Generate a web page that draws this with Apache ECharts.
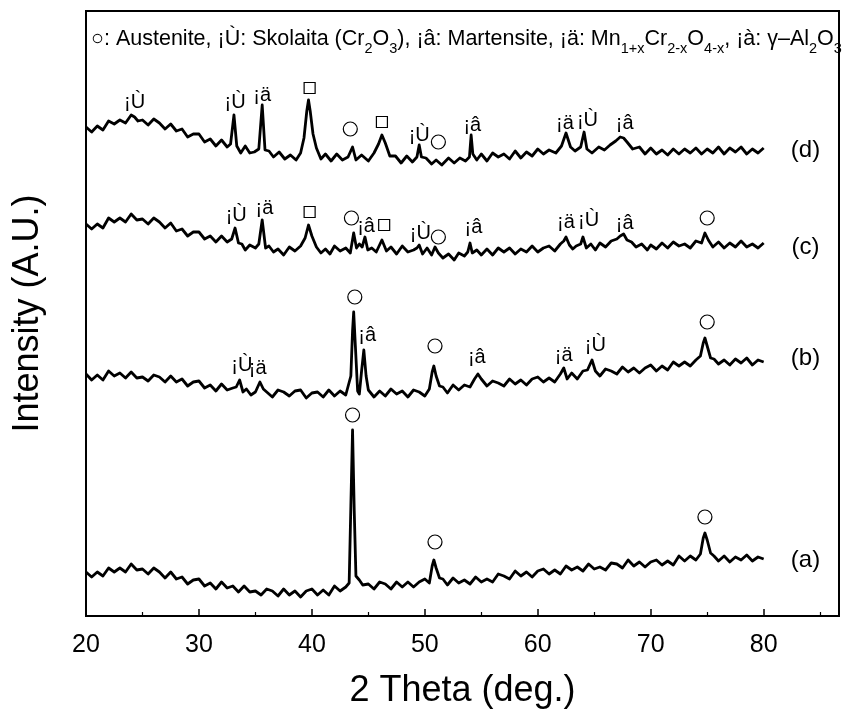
<!DOCTYPE html>
<html>
<head>
<meta charset="utf-8">
<script src="https://cdn.jsdelivr.net/npm/echarts@6/dist/echarts.min.js"></script>
<style>
    html, body {margin: 0; padding: 0; background: #fff;}
    #chart {width: 844px; height: 721px;}
</style>
</head>
<body>
<div id="chart"></div>
<script>
// XRD patterns, intensity in arbitrary units (stacking offset already included)
const traceA = [[20,44],[20.5,39],[21,44],[21.5,40],[22,48],[22.5,44],[23,48],[23.5,44],[24,52],[24.5,46],[25,47],[25.5,42],[26,48],[26.5,44],[27,38],[27.5,44],[28,37],[28.5,39],[29,32],[29.5,36],[30,37],[30.5,30],[31,33],[31.5,27],[32,34],[32.5,28],[33,30],[33.5,24],[34,30],[34.5,24],[35,25],[35.5,21],[36,27],[36.5,25],[37,20],[37.5,27],[38,21],[38.5,25],[39,19],[39.5,25],[40,27],[40.5,21],[41,26],[41.5,21],[42,30],[42.5,25],[43,29],[43.3,33],[43.45,110],[43.6,186],[43.75,105],[43.9,40],[44.2,36],[44.5,31],[45,32],[45.5,27],[46,34],[46.5,32],[47,27],[47.5,34],[48,29],[48.5,34],[49,29],[49.5,34],[50,37],[50.4,33],[50.65,50],[50.8,56],[51,48],[51.3,38],[51.6,37],[52,31],[52.5,38],[53,33],[53.5,36],[54,32],[54.5,39],[55,34],[55.5,37],[56,34],[56.5,42],[57,40],[57.5,37],[58,45],[58.5,40],[59,44],[59.5,39],[60,45],[60.5,47],[61,42],[61.5,46],[62,42],[62.5,50],[63,46],[63.5,49],[64,45],[64.5,52],[65,47],[65.5,49],[66,46],[66.5,53],[67,52],[67.5,48],[68,56],[68.5,50],[69,54],[69.5,49],[70,54],[70.5,56],[71,51],[71.5,55],[72,51],[72.5,60],[73,55],[73.5,60],[74,56],[74.4,62],[74.65,78],[74.8,83],[75,76],[75.3,63],[75.6,60],[76,55],[76.5,60],[77,54],[77.5,59],[78,56],[78.5,61],[79,55],[79.5,59],[80,57]];

const traceB = [[20,242],[20.5,236],[21,241],[21.5,236],[22,245],[22.5,240],[23,243],[23.5,238],[24,244],[24.5,238],[25,239],[25.5,235],[26,241],[26.5,239],[27,234],[27.5,240],[28,234],[28.5,237],[29,230],[29.5,234],[30,235],[30.5,228],[31,231],[31.5,225],[32,232],[32.5,226],[33,228],[33.3,229],[33.6,236],[33.9,224],[34.2,227],[34.6,221],[35,224],[35.4,234],[35.7,227],[36,224],[36.5,219],[37,226],[37.5,224],[38,220],[38.5,225],[39,226],[39.5,218],[40,223],[40.5,224],[41,219],[41.5,226],[42,220],[42.5,225],[43,221],[43.45,240],[43.6,285],[43.7,304],[43.85,270],[44.05,225],[44.2,222],[44.4,245],[44.6,266],[44.8,240],[45,226],[45.5,219],[46,225],[46.5,220],[47,227],[47.5,222],[48,225],[48.5,219],[49,226],[49.5,224],[50,220],[50.4,227],[50.65,244],[50.8,250],[51,240],[51.3,230],[51.6,229],[52,223],[52.5,231],[53,226],[53.5,231],[54,229],[54.4,237],[54.7,242],[55,237],[55.5,230],[56,235],[56.5,233],[57,230],[57.5,237],[58,232],[58.5,236],[59,231],[59.5,237],[60,239],[60.5,234],[61,238],[61.5,234],[62,242],[62.3,248],[62.6,237],[63,243],[63.5,237],[64,245],[64.4,246],[64.8,256],[65.1,245],[65.5,240],[66,247],[66.5,245],[67,242],[67.5,249],[68,244],[68.5,248],[69,243],[69.5,248],[70,251],[70.5,245],[71,250],[71.5,246],[72,254],[72.5,250],[73,254],[73.5,250],[74,256],[74.4,260],[74.65,273],[74.8,278],[75,270],[75.3,258],[75.6,257],[76,252],[76.5,256],[77,251],[77.5,257],[78,253],[78.5,258],[79,251],[79.5,256],[80,254]];

const traceC = [[20,392],[20.5,387],[21,392],[21.5,388],[22,398],[22.5,394],[23,398],[23.5,394],[24,402],[24.5,396],[25,397],[25.5,392],[26,398],[26.5,394],[27,388],[27.5,393],[28,385],[28.5,387],[29,380],[29.5,384],[30,384],[30.5,377],[31,380],[31.5,374],[32,380],[32.5,374],[32.9,377],[33.2,388],[33.5,373],[33.8,372],[34.1,366],[34.5,371],[35,368],[35.3,372],[35.6,396],[35.9,368],[36.2,370],[36.6,364],[37,367],[37.5,361],[38,369],[38.5,365],[39,370],[39.4,378],[39.7,391],[40,380],[40.4,369],[40.8,363],[41.2,367],[41.6,362],[42,370],[42.5,365],[43,368],[43.4,363],[43.7,383],[43.95,368],[44.2,372],[44.45,369],[44.7,379],[44.95,366],[45.3,368],[45.7,364],[46.2,376],[46.6,365],[47,369],[47.5,362],[48,370],[48.5,364],[49,366],[49.3,368],[49.5,371],[49.8,362],[50.2,368],[50.6,361],[50.9,369],[51.2,363],[51.6,358],[52.1,362],[52.6,356],[53,363],[53.5,360],[53.8,364],[54,373],[54.2,363],[54.6,366],[55,361],[55.5,367],[56,361],[56.5,368],[57,364],[57.5,368],[58,362],[58.5,367],[59,364],[59.5,370],[60,364],[60.5,368],[61,370],[61.5,365],[62,372],[62.3,375],[62.5,379],[62.8,371],[63.1,367],[63.4,370],[63.8,372],[64,379],[64.3,368],[64.7,372],[65.1,366],[65.5,373],[66,369],[66.5,375],[67,377],[67.3,380],[67.6,382],[67.9,376],[68.3,374],[68.7,369],[69.2,372],[69.7,366],[70,371],[70.5,367],[71,373],[71.5,368],[72,374],[72.5,370],[73,372],[73.5,368],[74,375],[74.5,373],[74.8,383],[75.1,376],[75.5,369],[76,374],[76.5,368],[77,373],[77.5,369],[78,375],[78.5,369],[79,372],[79.5,368],[80,373]];

const traceD = [[20,489],[20.5,484],[21,490],[21.5,486],[22,495],[22.5,492],[23,496],[23.5,493],[24,501],[24.3,499],[24.6,495],[25,496],[25.5,491],[26,497],[26.5,493],[27,487],[27.5,492],[28,485],[28.5,487],[29,479],[29.5,482],[30,482],[30.5,474],[31,477],[31.5,470],[32,476],[32.5,469],[32.8,472],[33.1,501],[33.35,470],[33.7,463],[34.1,470],[34.5,463],[34.9,464],[35.3,467],[35.6,511],[35.85,466],[36.2,465],[36.6,459],[37.1,464],[37.6,457],[38.1,461],[38.6,456],[39,463],[39.3,478],[39.55,505],[39.7,516],[39.85,505],[40.1,482],[40.4,468],[40.8,457],[41.2,462],[41.7,455],[42.2,462],[42.7,456],[43.2,459],[43.6,469],[43.9,456],[44.4,461],[45,455],[45.5,463],[45.9,472],[46.2,481],[46.5,473],[46.9,460],[47.4,460],[47.9,453],[48.4,460],[48.9,454],[49.3,459],[49.5,471],[49.7,459],[50.1,458],[50.6,452],[51,456],[51.5,451],[52.1,458],[52.6,453],[53.1,458],[53.6,455],[53.95,459],[54.1,481],[54.25,462],[54.6,456],[55,462],[55.5,455],[56,463],[56.5,459],[57,462],[57.5,457],[58,465],[58.5,458],[59,464],[59.5,460],[60,467],[60.5,462],[61,466],[61.6,463],[62.1,470],[62.5,483],[62.9,469],[63.3,465],[63.8,469],[64.1,484],[64.35,467],[64.8,463],[65.4,469],[65.9,466],[66.4,471],[66.9,475],[67.3,479],[67.6,478],[67.9,474],[68.4,467],[69,469],[69.5,462],[70,468],[70.5,462],[71,466],[71.5,461],[72,467],[72.5,462],[73,467],[73.5,463],[74,468],[74.5,462],[75,467],[75.5,463],[76,469],[76.5,462],[77,468],[77.5,464],[78,469],[78.5,462],[79,467],[79.5,463],[80,468]];

// peak identification marks
const austeniteMarks = [[43.4,487],[51.2,474],[43.5,398],[51.2,379],[75.0,398],[43.8,319],[50.9,270],[75.0,294],[43.6,201],[50.9,74],[74.8,99]];
const aluminaMarks = [[39.8,528],[46.2,494],[39.8,404],[46.4,391]];
const phaseLabels = [
    [24.3,514,'¡Ù'],[33.2,514,'¡Ù'],[35.6,521,'¡ä'],[49.5,481,'¡Ù'],[54.2,491,'¡â'],[62.4,493,'¡ä'],[64.4,496,'¡Ù'],[67.7,493,'¡â'],
    [33.3,401,'¡Ù'],[35.8,408,'¡ä'],[44.8,390,'¡â'],[49.6,383,'¡Ù'],[54.3,389,'¡â'],[62.5,394,'¡ä'],[64.5,396,'¡Ù'],[67.7,393,'¡â'],
    [33.8,251,'¡Ù'],[35.2,248,'¡ä'],[44.9,281,'¡â'],[54.6,259,'¡â'],[62.3,261,'¡ä'],[65.1,271,'¡Ù']
];
const traceNames = [[83.7,56,'(a)'],[83.7,258,'(b)'],[83.7,369,'(c)'],[83.7,466,'(d)']];
const xTicks = [20, 30, 40, 50, 60, 70, 80];

const font = 'Liberation Sans, Arial, sans-serif';
const myChart = echarts.init(document.getElementById('chart'));

const lineSeries = (data) => ({
    type: 'line',
    data: data,
    showSymbol: false,
    lineStyle: {color: '#000', width: 2.8, join: 'round'},
    itemStyle: {color: '#000'},
    z: 3
});

const textSeries = (data, size) => ({
    type: 'scatter',
    data: data,
    symbolSize: 1,
    itemStyle: {color: 'rgba(0,0,0,0)', opacity: 1},
    label: {
        show: true, position: 'inside',
        formatter: p => p.value[2],
        fontFamily: font, fontSize: size, color: '#000'
    },
    z: 4
});

const markSeries = (data, symbol, size) => ({
    type: 'scatter',
    data: data,
    symbol: symbol,
    symbolSize: size,
    itemStyle: {color: '#fff', borderColor: '#000', borderWidth: 1.2, opacity: 1},
    z: 4
});

const option = {
    animation: false,
    backgroundColor: '#fff',
    title: {
        text: '○: Austenite, ¡Ù: Skolaita (Cr{s|2}O{s|3}), ¡â: Martensite, ¡ä: Mn{s|1+x}Cr{s|2-x}O{s|4-x}, ¡à: γ–Al{s|2}O{s|3}',
        left: 91,
        top: 26,
        padding: 0,
        textStyle: {
            fontFamily: font,
            fontSize: 21.5,
            fontWeight: 'normal',
            color: '#000',
            lineHeight: 26,
            rich: {
                s: {fontFamily: font, fontSize: 14.5, color: '#000', verticalAlign: 'bottom', lineHeight: 26, padding: [0, 0, -4, 0]}
            }
        }
    },
    grid: {
        left: 86, right: 5, top: 11, bottom: 105,
        show: true, borderColor: '#000', borderWidth: 2
    },
    xAxis: {
        type: 'value',
        min: 20,
        max: 86.67,
        interval: 10,
        name: '2 Theta (deg.)',
        nameLocation: 'middle',
        nameGap: 57,
        nameTextStyle: {fontFamily: font, fontSize: 36, color: '#000'},
        axisLine: {lineStyle: {color: '#000', width: 2}},
        axisTick: {inside: true, length: 7, lineStyle: {color: '#000', width: 1.5}},
        minorTick: {show: true, splitNumber: 2, length: 4, lineStyle: {color: '#000', width: 1.2}},
        axisLabel: {
            fontFamily: font, fontSize: 25, color: '#000', margin: 17,
            showMaxLabel: false,
            formatter: v => xTicks.includes(v) ? String(v) : ''
        },
        splitLine: {show: false}
    },
    yAxis: {
        type: 'value',
        min: 0,
        max: 605,
        name: 'Intensity (A.U.)',
        nameLocation: 'middle',
        nameGap: 40,
        nameRotate: 90,
        nameTextStyle: {fontFamily: font, fontSize: 36, color: '#000'},
        axisLine: {show: true, lineStyle: {color: '#000', width: 2}},
        axisTick: {show: false},
        axisLabel: {show: false},
        splitLine: {show: false}
    },
    series: [
        lineSeries(traceA),
        lineSeries(traceB),
        lineSeries(traceC),
        lineSeries(traceD),
        markSeries(austeniteMarks, 'circle', 14),
        markSeries(aluminaMarks, 'rect', 11),
        textSeries(phaseLabels, 20),
        textSeries(traceNames, 24)
    ]
};

option && myChart.setOption(option);
</script>
</body>
</html>
